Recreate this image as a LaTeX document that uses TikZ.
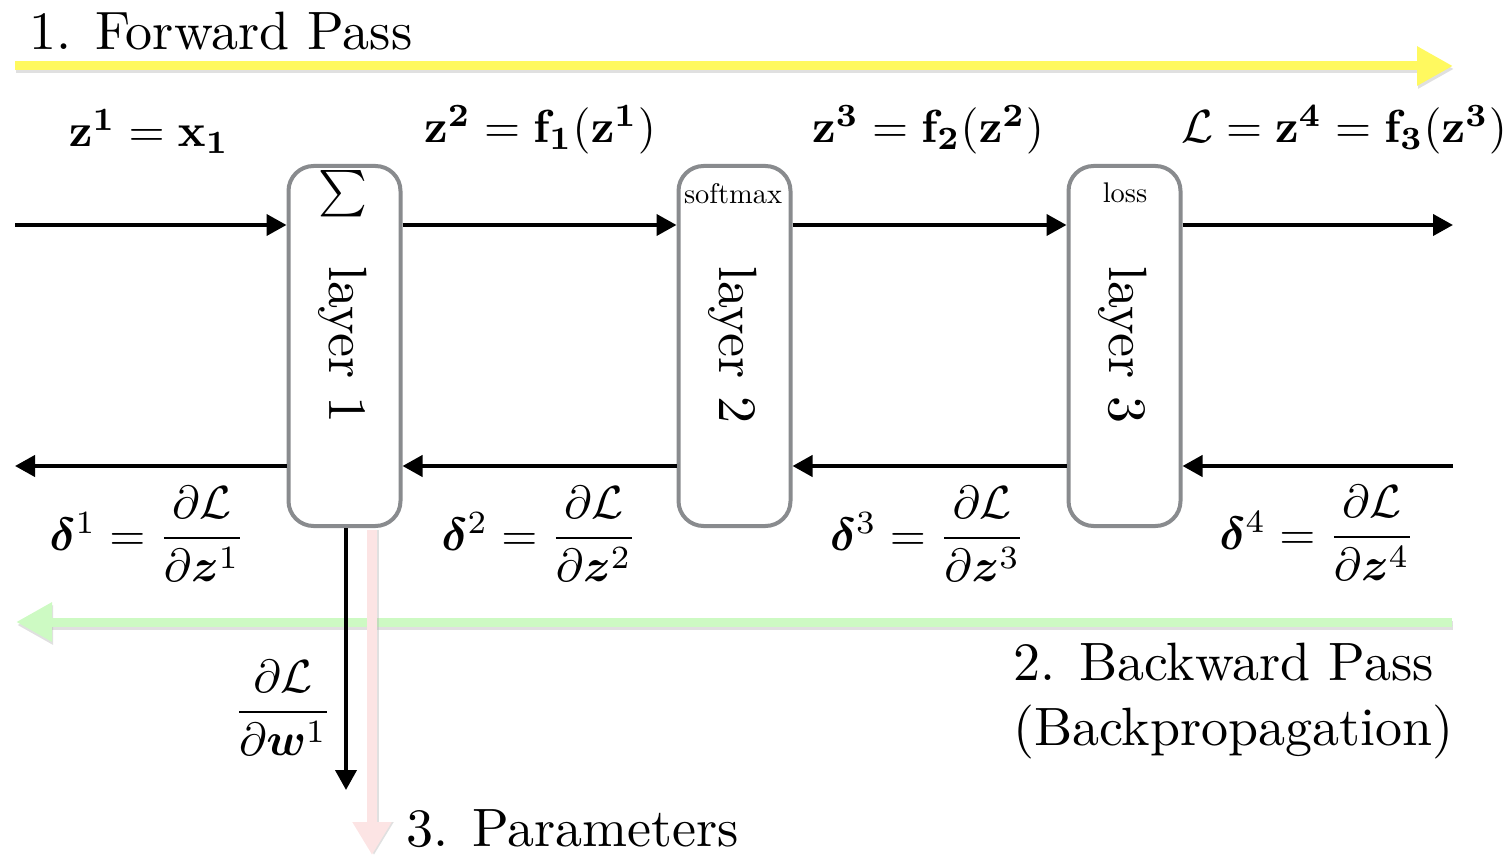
\RequirePackage{fix-cm}
\documentclass[tikz,border=0pt]{standalone}
\usepackage{amsmath,bm}
\usetikzlibrary{arrows.meta,calc}
\definecolor{boxgray}{RGB}{137,139,142}
\definecolor{fwdyellow}{RGB}{255,249,95}
\definecolor{bwdgreen}{RGB}{205,250,195}
\definecolor{parpink}{RGB}{252,228,228}
\tikzset{
  layerbox/.style={draw=boxgray, line width=2pt, rounded corners=12.5pt, fill=white,
    minimum width=56pt, minimum height=180pt, inner sep=0pt},
  flow/.style={line width=2pt, -{Triangle[length=10pt,width=10.5pt]}},
  bigarrow/.style={line width=4.5pt, -{Triangle[length=18pt,width=18.5pt]}},
  pinkarrow/.style={line width=5pt, -{Triangle[length=16.5pt,width=18.5pt]}},
  shadowarrow/.style={bigarrow, draw=black!40, fill=black!40, opacity=0.3},
  basefont/.style={font=\fontsize{10}{12}\selectfont, inner sep=0pt},
  bigtext/.style={basefont, scale=2.7},
  mathlbl/.style={basefont, scale=2.32},
  smalltext/.style={basefont, scale=1.42},
  layertext/.style={basefont, scale=2.7, rotate=-90},
}
\begin{document}
\begin{tikzpicture}[x=0.5pt,y=-0.5pt]
\useasboundingbox (0,0) rectangle (1509,855);

% free end points
\coordinate (fy0) at (15,66);   \coordinate (fy1) at (1453,66);
\coordinate (fy0s) at (16,69);  \coordinate (fy1s) at (1454,69);
\coordinate (gb0) at (1452,622); \coordinate (gb1) at (16,622);
\coordinate (gb0s) at (1453,625); \coordinate (gb1s) at (17,625);
\coordinate (fin) at (15,225);   \coordinate (fout) at (1453,225);
\coordinate (bin) at (1453,466); \coordinate (bout) at (15,466);
\coordinate (wend) at (346,790);
\coordinate (pend) at (372,855);

% layer boxes
\node[layerbox] (b1) at (344.5,346) {};
\node[layerbox] (b2) at (734.5,346) {};
\node[layerbox] (b3) at (1124.5,346) {};

\node[layertext] (t1) at (343,345) {layer 1};
\node[layertext] (t2) at (733,345) {layer 2};
\node[layertext] (t3) at (1123,345) {layer 3};

\node[mathlbl] (s1) at (343,194) {$\sum$};
\node[smalltext, anchor=base] (s2) at (733,204) {softmax};
\node[smalltext, anchor=base] (s3) at (1125,203) {loss};

% big coloured arrows (with soft shadows)
\draw[shadowarrow] (fy0s) -- (fy1s);
\draw[bigarrow, draw=fwdyellow, fill=fwdyellow] (fy0) -- (fy1);
\draw[shadowarrow] (gb0s) -- (gb1s);
\draw[bigarrow, draw=bwdgreen, fill=bwdgreen] (gb0) -- (gb1);

% forward connectors
\draw[flow] (fin) -- (b1.west |- fin);
\draw[flow] (b1.east |- fin) -- (b2.west |- fin);
\draw[flow] (b2.east |- fin) -- (b3.west |- fin);
\draw[flow] (b3.east |- fin) -- (fout);

% backward connectors
\draw[flow] (bin) -- (b3.east |- bin);
\draw[flow] (b3.west |- bin) -- (b2.east |- bin);
\draw[flow] (b2.west |- bin) -- (b1.east |- bin);
\draw[flow] (b1.west |- bin) -- (bout);

% parameter gradient
\draw[flow] (b1.south -| wend) -- (wend);
\draw[pinkarrow, draw=black!30, fill=black!30, opacity=0.4] ([xshift=1pt,yshift=-1pt]b1.south -| pend) -- ([xshift=1pt]pend);
\draw[pinkarrow, draw=parpink, fill=parpink] ([yshift=-1pt]b1.south -| pend) -- (pend);

% texts
\node[bigtext, anchor=base west] (fp) at (28,50) {1. Forward Pass};
\node[bigtext, anchor=north west, align=left] (bp) at (1012,642) {2. Backward Pass\\(Backpropagation)};
\node[bigtext, anchor=base west] (pp) at (405,846) {3. Parameters};

\node[mathlbl, anchor=base] (z1) at (149,147) {$\mathbf{z^1} = \mathbf{x_1}$};
\node[mathlbl, anchor=base] (z2) at (540,143) {$\mathbf{z^2} = \mathbf{f_1}(\mathbf{z^1})$};
\node[mathlbl, anchor=base] (z3) at (928,143) {$\mathbf{z^3} = \mathbf{f_2}(\mathbf{z^2})$};
\node[mathlbl, anchor=base] (z4) at (1344,143) {$\mathcal{L} = \mathbf{z^4} = \mathbf{f_3}(\mathbf{z^3})$};

\node[mathlbl, anchor=base] (d1) at (147.5,550) {$\bm{\delta}^1 = \dfrac{\partial\mathcal{L}}{\partial\bm{z}^1}$};
\node[mathlbl, anchor=base] (d2) at (539.5,550) {$\bm{\delta}^2 = \dfrac{\partial\mathcal{L}}{\partial\bm{z}^2}$};
\node[mathlbl, anchor=base] (d3) at (928,550) {$\bm{\delta}^3 = \dfrac{\partial\mathcal{L}}{\partial\bm{z}^3}$};
\node[mathlbl, anchor=base] (d4) at (1317.5,549) {$\bm{\delta}^4 = \dfrac{\partial\mathcal{L}}{\partial\bm{z}^4}$};
\node[mathlbl, anchor=base] (dw) at (283,724) {$\dfrac{\partial\mathcal{L}}{\partial\bm{w}^1}$};
\end{tikzpicture}
\end{document}
